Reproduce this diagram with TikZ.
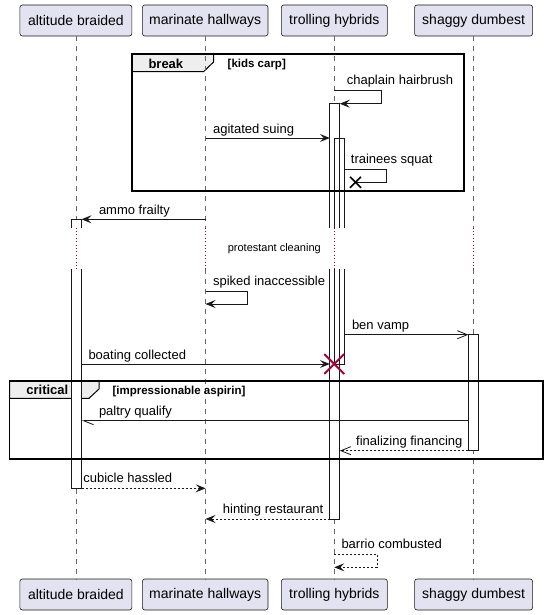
\documentclass[tikz,border=0pt]{standalone}
\usepackage{fontspec}
\setmainfont{Liberation Sans}
\usetikzlibrary{arrows.meta}
\definecolor{partfill}{HTML}{E2E2F0}
\definecolor{partline}{HTML}{181818}
\definecolor{tabfill}{HTML}{EEEEEE}
\definecolor{crim}{HTML}{A80036}
\begin{document}
\begin{tikzpicture}[x=1pt,y=-1pt,
  part/.style={draw=partline, fill=partfill, rounded corners=2.5pt, line width=0.6pt, inner sep=0pt, minimum height=31pt, font=\fontsize{14}{16}\selectfont},
  lifeline/.style={draw=black!60, line width=0.7pt, dash pattern=on 5pt off 5pt},
  delayline/.style={draw=crim, line width=0.8pt, dash pattern=on 0.8pt off 2.6pt},
  actline/.style={draw=partline, line width=0.8pt},
  frameline/.style={draw=black, line width=1.9pt},
  tabshape/.style={fill=tabfill, draw=black, line width=1pt},
  msg/.style={draw=partline, line width=0.8pt},
  dmsg/.style={draw=partline, line width=0.8pt, dash pattern=on 2pt off 2pt},
  filltip/.style={-{Stealth[length=10pt,width=8pt,inset=4pt]}},
  opentip/.style={-{Straight Barb[length=10pt,width=8pt,line width=0.8pt]}},
  halftip/.style={-{Straight Barb[left,length=10pt,width=8pt,line width=0.8pt]}},
  lbl/.style={font=\fontsize{13}{15}\selectfont, anchor=base west, inner sep=0pt},
  ftitle/.style={font=\fontsize{13}{15}\selectfont\bfseries, anchor=base west, inner sep=0pt},
  guard/.style={font=\fontsize{11.5}{13}\selectfont\bfseries, anchor=base west, inner sep=0pt},
  delaytext/.style={font=\fontsize{11}{13}\selectfont, inner sep=0pt},
  xmark/.style={draw=black, line width=1.5pt},
  redx/.style={draw=crim, line width=2pt}]
\useasboundingbox (0,0) rectangle (547,615);

% participants
\node[part, minimum width=112pt] (pA) at (75.9,20.5) {altitude braided};
\node[part, minimum width=125.6pt] (pB) at (205.2,20.5) {marinate hallways};
\node[part, minimum width=106pt] (pC) at (334.35,20.5) {trolling hybrids};
\node[part, minimum width=118pt] (pD) at (473.6,20.5) {shaggy dumbest};
\node[part, minimum width=112pt] (qA) at (75.9,594.5) {altitude braided};
\node[part, minimum width=125.6pt] (qB) at (205.2,594.5) {marinate hallways};
\node[part, minimum width=106pt] (qC) at (334.35,594.5) {trolling hybrids};
\node[part, minimum width=118pt] (qD) at (473.6,594.5) {shaggy dumbest};

% frame tabs
\draw[tabshape] (131.9,54) -- (213.6,54) -- (213.6,62) -- (203.5,71.7) -- (131.9,71.7) -- cycle;
\draw[tabshape] (9.5,381) -- (99,381) -- (99,389) -- (89,398.3) -- (9.5,398.3) -- cycle;

% lifelines
\foreach \p/\q in {pA/qA,pB/qB,pC/qC,pD/qD}{
  \draw[lifeline] (\p.south) -- (\p.south |- 0,227.5);
  \draw[delayline] (\p.south |- 0,227.5) -- (\p.south |- 0,268.5);
  \draw[lifeline] (\p.south |- 0,268.5) -- (\q.north);
}

% activation boxes
\fill[white] (71.5,219.3) rectangle (81.5,227.5);
\fill[white] (71.5,268.5) rectangle (81.5,488.3);
\fill[white] (329.8,103.7) rectangle (339.8,227.5);
\fill[white] (329.8,268.5) rectangle (339.8,519);
\fill[white] (334.3,138) rectangle (344.3,227.5);
\fill[white] (334.3,268.5) rectangle (344.3,364);
\fill[white] (468.4,334.7) rectangle (478.4,450.7);
\draw[actline] (71.5,227.5) -- (71.5,219.3) -- (81.5,219.3) -- (81.5,227.5);
\draw[actline] (71.5,268.5) -- (71.5,488.3) -- (81.5,488.3) -- (81.5,268.5);
\draw[actline] (329.8,227.5) -- (329.8,103.7) -- (339.8,103.7) -- (339.8,227.5);
\draw[actline] (329.8,268.5) -- (329.8,519) -- (339.8,519) -- (339.8,268.5);
\draw[actline] (334.3,227.5) -- (334.3,138) -- (344.3,138) -- (344.3,227.5);
\draw[actline] (334.3,268.5) -- (334.3,364) -- (344.3,364) -- (344.3,268.5);
\draw[actline] (468.4,334.7) rectangle (478.4,450.7);

% frames
\draw[frameline] (131.9,54) rectangle (464.2,190.7);
\draw[frameline] (9.5,381) rectangle (543.4,459);
\node[ftitle] (brk) at (148.3,69) {break};
\node[guard] (brkg) at (227.5,67.5) {[kids carp]};
\node[ftitle] (crit) at (26.2,394.7) {critical};
\node[guard] (critg) at (112.4,394.5) {[impressionable aspirin]};

% message end points
\coordinate (m1s) at (334.3,90.3);   \coordinate (m1e) at (339.8,103.7);
\coordinate (m2s) at (205.6,138);    \coordinate (m2e) at (329.8,138);
\coordinate (m3s) at (344.3,169.3);  \coordinate (m3e) at (355.5,182.3);
\coordinate (m4s) at (205.6,219.3);  \coordinate (m4e) at (81.5,219.3);
\coordinate (m6s) at (205.6,291);    \coordinate (m6e) at (205.6,304);
\coordinate (m7s) at (344.3,334.7);  \coordinate (m7e) at (468.4,334.7);
\coordinate (m8s) at (81.5,364);     \coordinate (m8e) at (329.8,364);
\coordinate (m9s) at (468.4,420.7);  \coordinate (m9e) at (81.5,420.7);
\coordinate (m10s) at (468.4,450.7); \coordinate (m10e) at (339.8,450.7);
\coordinate (m11s) at (81.5,488.3);  \coordinate (m11e) at (205.6,488.3);
\coordinate (m12s) at (329.8,519);   \coordinate (m12e) at (205.6,519);
\coordinate (m13s) at (334.3,554);   \coordinate (m13e) at (334.3,567.3);
\coordinate (dC) at (334.3,364);

% messages
\draw[msg,filltip] (m1s) -- (381.5,90.3) -- (381.5,103.7) -- (m1e);
\node[lbl] (t1) at (346.6,84.3) {chaplain hairbrush};
\draw[msg,filltip] (m2s) -- (m2e);
\node[lbl] (t2) at (212.9,133.5) {agitated suing};
\draw[msg] (m3s) -- (386.3,169.3) -- (386.3,182.3) -- (m3e);
\draw[xmark] ([shift={(-5.5,-5.5)}]m3e) -- ([shift={(5.5,5.5)}]m3e);
\draw[xmark] ([shift={(-5.5,5.5)}]m3e) -- ([shift={(5.5,-5.5)}]m3e);
\node[lbl] (t3) at (350.7,163.3) {trainees squat};
\draw[msg,filltip] (m4s) -- (m4e);
\node[lbl] (t4) at (98.8,214.3) {ammo frailty};
\node[delaytext] (t5) at (274.3,249) {protestant cleaning};
\draw[msg,filltip] (m6s) -- (247.4,291) -- (247.4,304) -- (m6e);
\node[lbl] (t6) at (212.9,285.5) {spiked inaccessible};
\draw[msg,opentip] (m7s) -- (m7e);
\node[lbl] (t7) at (351.8,329.5) {ben vamp};
\draw[msg,filltip] (m8s) -- (m8e);
\draw[redx] ([shift={(-10,-10)}]dC) -- ([shift={(10,10)}]dC);
\draw[redx] ([shift={(-10,10)}]dC) -- ([shift={(10,-10)}]dC);
\node[lbl] (t8) at (88.3,359) {boating collected};
\draw[msg,halftip] (m9s) -- (m9e);
\node[lbl] (t9) at (98.8,415.5) {paltry qualify};
\draw[dmsg,opentip] (m10s) -- (m10e);
\node[lbl] (t10) at (356,445.5) {finalizing financing};
\draw[dmsg,filltip] (m11s) -- (m11e);
\node[lbl] (t11) at (83.1,482.8) {cubicle hassled};
\draw[dmsg,filltip] (m12s) -- (m12e);
\node[lbl] (t12) at (222.7,513.5) {hinting restaurant};
\draw[dmsg,filltip] (m13s) -- (377,554) -- (377,567.3) -- (m13e);
\node[lbl] (t13) at (341.3,548.3) {barrio combusted};
\end{tikzpicture}
\end{document}
